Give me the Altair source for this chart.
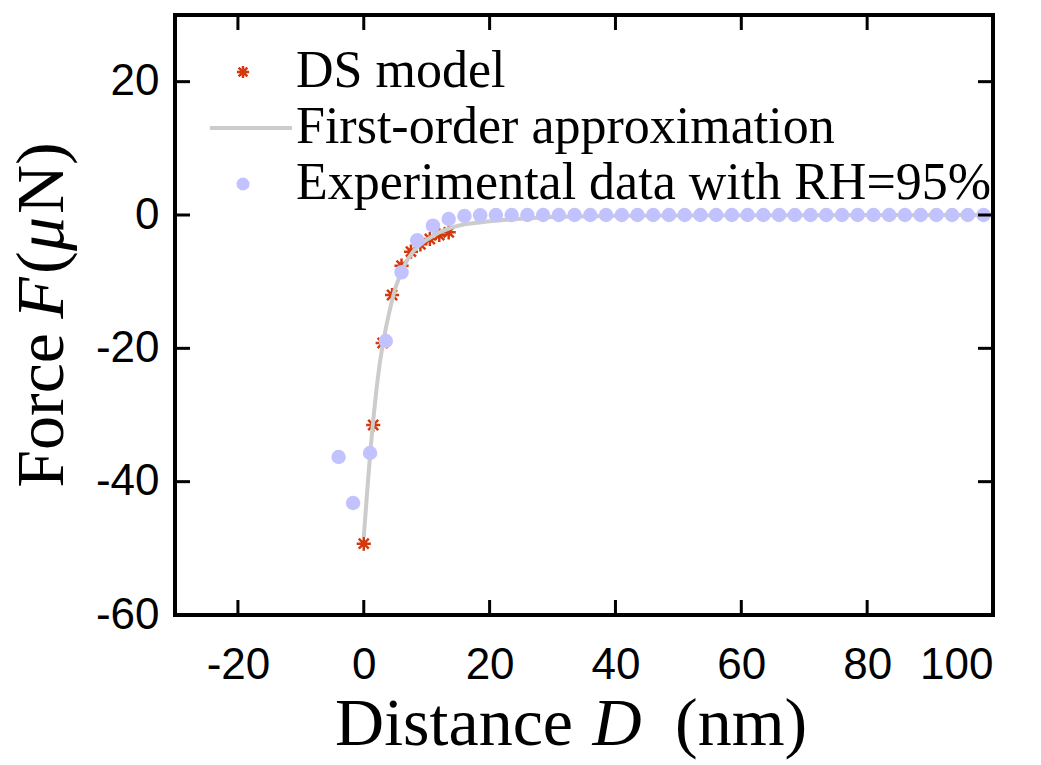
import altair as alt
import pandas as pd

# ---- data ----
ds_x = [0.0, 1.5, 3.0, 4.5, 6.0, 7.5, 9.0, 10.5, 12.0, 13.5]
ds_y = [-49.3, -31.5, -19.2, -12.0, -7.6, -5.5, -4.4, -3.6, -3.0, -2.6]

fo_x = [0, 0.5, 1, 1.5, 2, 2.5, 3, 3.5, 4, 4.5, 5, 6, 7, 8, 9, 10, 12, 14, 16, 18, 20, 25, 30, 40, 60, 80, 100]
fo_y = [-48.3, -42.0, -36.0, -30.8, -26.3, -22.5, -19.5, -17.0, -14.8, -12.8, -11.0, -8.4, -6.6, -5.3,
        -4.4, -3.7, -2.6, -1.85, -1.4, -1.15, -0.95, -0.55, -0.3, -0.12, -0.04, -0.01, 0.0]

exp_x = [-4.0, -1.7, 1.0, 3.5, 6.0, 8.5, 11.0, 13.5, 16.0, 18.5, 21.0, 23.5, 26.0, 28.5, 31.0, 33.5,
         36.0, 38.5, 41.0, 43.5, 46.0, 48.5, 51.0, 53.5, 56.0, 58.5, 61.0, 63.5, 66.0, 68.5, 71.0,
         73.5, 76.0, 78.5, 81.0, 83.5, 86.0, 88.5, 91.0, 93.5, 96.0, 98.5]
exp_y = [-36.3, -43.2, -35.7, -18.9, -8.6, -3.8, -1.6, -0.6, -0.15, -0.05,
         0.0, 0.0, 0.0, 0.0, 0.0, 0.0, 0.0, 0.0, 0.0, 0.0, 0.0, 0.0, 0.0, 0.0, 0.0, 0.0,
         0.0, 0.0, 0.0, 0.0, 0.0, 0.0, 0.0, 0.0, 0.0, 0.0, 0.0, 0.0, 0.0, 0.0, 0.0, 0.0]

x_ticks = [-20, 0, 20, 40, 60, 80, 100]
y_ticks = [-60, -40, -20, 0, 20]
x_inner_ticks = [-20, 0, 20, 40, 60, 80]
y_inner_ticks = [-40, -20, 0, 20]

legend_labels = ["DS model", "First-order approximation", "Experimental data with RH=95%"]

RED = "#d4380d"
BLUE = "#c2c2ff"
GRAY = "#cccccc"
SERIF = "Liberation Serif"
SANS = "Liberation Sans"
W, H = 818, 600
STAR = "M-1,0L1,0M0,-1L0,1M-0.71,-0.71L0.71,0.71M-0.71,0.71L0.71,-0.71"

ds = pd.DataFrame({"x": ds_x, "y": ds_y})
fo = pd.DataFrame({"x": fo_x, "y": fo_y})
ex = pd.DataFrame({"x": exp_x, "y": exp_y})

xs = alt.Scale(domain=[-30, 100], nice=False, zero=False)
ys = alt.Scale(domain=[-60, 30], nice=False, zero=False)

X = alt.X("x:Q", scale=xs, axis=alt.Axis(values=x_ticks, title=None, ticks=False, domain=False,
                                         grid=False, labelFont=SANS, labelFontSize=44,
                                         labelColor="black", labelPadding=28,
                                         labelExpr="toString(datum.value)"))
Y = alt.Y("y:Q", scale=ys, axis=alt.Axis(values=y_ticks, title=None, ticks=False, domain=False,
                                         grid=False, labelFont=SANS, labelFontSize=44,
                                         labelColor="black", labelPadding=16,
                                         labelExpr="toString(datum.value)"))
Xp = alt.X("x:Q", scale=xs)
Yp = alt.Y("y:Q", scale=ys)

stars = alt.Chart(ds).mark_point(shape=STAR, filled=False, stroke=RED, strokeWidth=2.5,
                                 size=200, opacity=1).encode(x=X, y=Y)
line = alt.Chart(fo).mark_line(color=GRAY, strokeWidth=4).encode(x=Xp, y=Yp)
dots = alt.Chart(ex).mark_circle(color=BLUE, size=210, opacity=1).encode(x=Xp, y=Yp)

# frame and inward ticks on all four sides
one = pd.DataFrame({"a": [0]})
frame = alt.Chart(one).mark_rect(filled=False, stroke="black", strokeWidth=4).encode(
    x=alt.value(0), x2=alt.value(W), y=alt.value(0), y2=alt.value(H))
tx = pd.DataFrame({"x": x_inner_ticks})
ty = pd.DataFrame({"y": y_inner_ticks})
tk = dict(color="black", strokeWidth=3)
tick_b = alt.Chart(tx).mark_rule(**tk).encode(x=Xp, y=alt.value(H), y2=alt.value(H - 15))
tick_t = alt.Chart(tx).mark_rule(**tk).encode(x=Xp, y=alt.value(0), y2=alt.value(15))
tick_l = alt.Chart(ty).mark_rule(**tk).encode(y=Yp, x=alt.value(0), x2=alt.value(15))
tick_r = alt.Chart(ty).mark_rule(**tk).encode(y=Yp, x=alt.value(W), x2=alt.value(W - 15))

# legend
LX, LY0, DY = 68, 57, 56
leg_star = alt.Chart(one).mark_point(
    shape=STAR, filled=False, stroke=RED, strokeWidth=2.5, size=150, opacity=1
).encode(x=alt.value(LX), y=alt.value(LY0))
leg_line = alt.Chart(one).mark_rule(color=GRAY, strokeWidth=4).encode(
    x=alt.value(35), x2=alt.value(117), y=alt.value(LY0 + DY))
leg_dot = alt.Chart(one).mark_circle(color=BLUE, size=170, opacity=1).encode(
    x=alt.value(LX), y=alt.value(LY0 + 2 * DY))
leg_texts = [
    alt.Chart(one).mark_text(text=lab, font=SERIF, fontSize=52, align="left", baseline="middle",
                             color="black").encode(x=alt.value(121), y=alt.value(LY0 - 1 + i * DY))
    for i, lab in enumerate(legend_labels)
]

# axis titles with italic math symbols
TS = 68


def piece(txt, x, y, align, italic=False, angle=0):
    kw = dict(text=txt, font=SERIF, fontSize=TS, align=align, baseline="alphabetic", color="black")
    if italic:
        kw["fontStyle"] = "italic"
    if angle:
        kw["angle"] = angle
    return alt.Chart(one).mark_text(**kw).encode(x=alt.value(x), y=alt.value(y))


xt = [piece("Distance", 398, 730, "right"),
      piece("D", 442, 730, "center", italic=True),
      piece("(nm)", 500, 730, "left")]

YX = -112
yt = [piece("Force", YX, 318, "right", angle=270),
      piece("F", YX, 283, "center", italic=True, angle=270),
      piece("(", YX, 259, "left", angle=270),
      piece("μ", YX, 236, "left", italic=True, angle=270),
      piece("N)", YX, 199, "left", angle=270)]

chart = alt.layer(
    stars, line, dots, frame, tick_b, tick_t, tick_l, tick_r,
    leg_line, leg_star, leg_dot, *leg_texts, *xt, *yt,
).properties(
    width=W, height=H,
    autosize=alt.AutoSizeParams(type="none"),
    padding={"left": 175, "top": 15, "right": 48, "bottom": 150},
).configure_view(stroke=None).configure(background="white")

chart.save("out.html", embed_options={"renderer": "svg", "actions": False})
